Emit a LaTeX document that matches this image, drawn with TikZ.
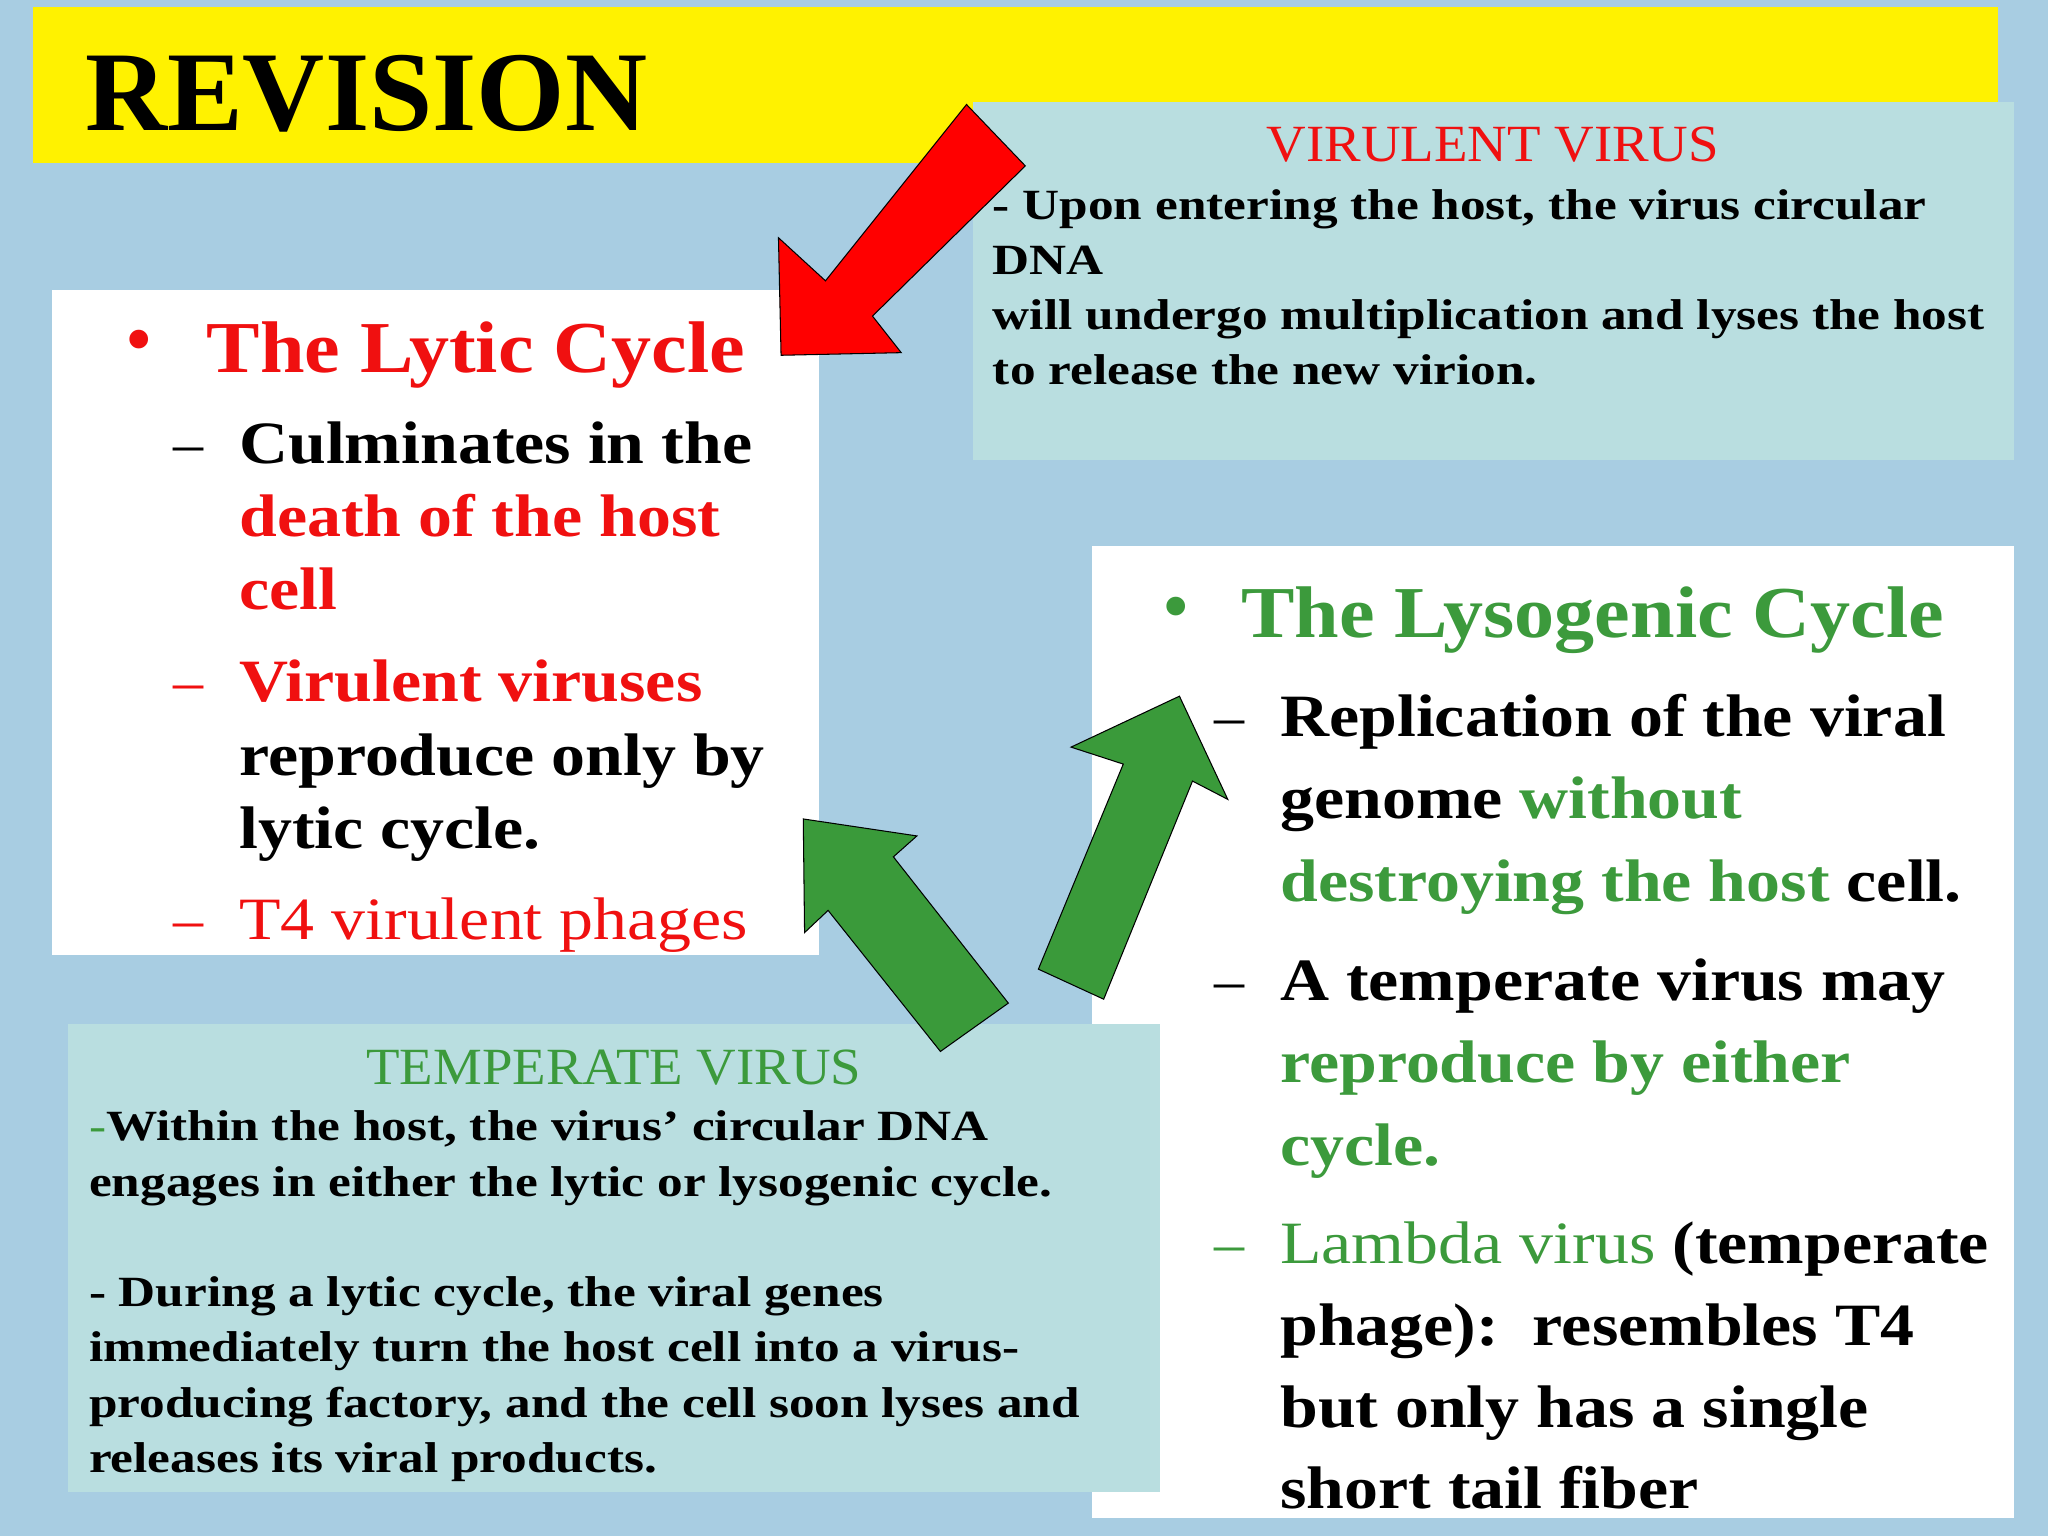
\documentclass[tikz,border=0pt]{standalone}
\usepackage{fontspec}
\setmainfont{Liberation Serif}
\newfontfamily\fwa[FakeStretch=1.13]{Liberation Serif}
\newfontfamily\fwb[FakeStretch=1.19]{Liberation Serif}
\newfontfamily\fwc[FakeStretch=1.095]{Liberation Serif}
\newfontfamily\fwd[FakeStretch=1.05]{Liberation Serif}
\definecolor{bg}{HTML}{A8CDE2}
\definecolor{tb}{HTML}{B9DEE0}
\definecolor{rr}{HTML}{F01010}
\definecolor{gg}{HTML}{3C9A3C}
\definecolor{ga}{HTML}{3A9A3A}
\begin{document}
\begin{tikzpicture}[x=1pt,y=-1pt,
  t/.style={anchor=base west,inner sep=0pt},
  big/.style={t,font=\fwa\fontsize{46}{50}\selectfont\bfseries},
  mid/.style={t,font=\fwb\fontsize{33}{36}\selectfont\bfseries},
  dsh/.style={t,font=\fontsize{46}{50}\selectfont},
  arr/.style={draw=black,line width=0.8pt}]
\useasboundingbox (0,0) rectangle (1568,1176);
\fill[bg] (0,0) rectangle (1568,1176);
\fill[yellow] (25,5) rectangle (1530,125);
\node[t,font=\fontsize{87}{90}\selectfont\bfseries] (title) at (65,100) {REVISION};
% virulent box
\fill[tb] (745,78) rectangle (1542,352);
\node[anchor=base,inner sep=0pt,text=rr,font=\fwd\fontsize{40}{40}\selectfont] (vt) at (1143,124) {VIRULENT VIRUS};
\node[mid] (v1) at (760,168) {- Upon entering the host, the virus circular};
\node[mid] (v2) at (760,210) {DNA};
\node[mid] (v3) at (760,252) {will undergo multiplication and lyses the host};
\node[mid] (v4) at (760,294) {to release the new virion.};
% lytic box
\fill[white] (40,222) rectangle (627,731);
\node[t,text=rr,font=\fontsize{60}{60}\selectfont] (lb) at (96,280) {•};
\node[t,text=rr,font=\fwc\fontsize{56}{60}\selectfont\bfseries] (lt) at (158,285) {The Lytic Cycle};
\node[dsh] (ld1) at (133,355) {–};
\node[big] (l1) at (183,355) {Culminates in the};
\node[big,text=rr] (l2) at (183,411) {death of the host};
\node[big,text=rr] (l3) at (183,467) {cell};
\node[dsh,text=rr] (ld2) at (133,537) {–};
\node[big,text=rr] (l4) at (183,537) {Virulent viruses};
\node[big] (l5) at (183,594) {reproduce only by};
\node[big] (l6) at (183,650) {lytic cycle.};
\node[dsh,text=rr] (ld3) at (133,719) {–};
\node[t,text=rr,font=\fwa\fontsize{46}{50}\selectfont] (l7) at (183,719) {T4 virulent phages};
% lysogenic box
\fill[white] (836,418) rectangle (1542,1162);
\node[t,text=gg,font=\fontsize{60}{60}\selectfont] (gb) at (890,484) {•};
\node[t,text=gg,font=\fwc\fontsize{56}{60}\selectfont\bfseries] (gt) at (950,488) {The Lysogenic Cycle};
\node[dsh] (gd1) at (930,564) {–};
\node[big] (g1) at (980,564) {Replication of the viral};
\node[big] (g2) at (980,627) {genome \textcolor{gg}{without}};
\node[big] (g3) at (980,690) {\textcolor{gg}{destroying the host} cell.};
\node[dsh] (gd2) at (930,766) {–};
\node[big] (g4) at (980,766) {A temperate virus may};
\node[big,text=gg] (g5) at (980,829) {reproduce by either};
\node[big,text=gg] (g6) at (980,892) {cycle.};
\node[dsh,text=gg] (gd3) at (930,967) {–};
\node[big] (g7) at (980,967) {\textcolor{gg}{\mdseries Lambda virus} (temperate};
\node[big] (g8) at (980,1030) {phage):\ \ resembles T4};
\node[big] (g9) at (980,1093) {but only has a single};
\node[big] (g10) at (980,1155) {short tail fiber};
% temperate box
\fill[tb] (52,784) rectangle (888,1142);
\node[anchor=base,inner sep=0pt,text=gg,font=\fwd\fontsize{40}{40}\selectfont] (tt) at (470,830) {TEMPERATE VIRUS};
\node[mid] (t1) at (68,873) {\textcolor{gg}{\mdseries -}Within the host, the virus’ circular DNA};
\node[mid] (t2) at (68,916) {engages in either the lytic or lysogenic cycle.};
\node[mid] (t3) at (68,1000) {- During a lytic cycle, the viral genes};
\node[mid] (t4) at (68,1042) {immediately turn the host cell into a virus-};
\node[mid] (t5) at (68,1085) {producing factory, and the cell soon lyses and};
\node[mid] (t6) at (68,1127) {releases its viral products.};
% arrows
\draw[arr,fill=red] (598,272) -- (596,182) -- (632,215) -- (740,80) -- (785,127) -- (668,242) -- (690,270) -- cycle;
\draw[arr,fill=ga] (615,627) -- (702,640) -- (684,656) -- (772,768) -- (720,805) -- (634,697) -- (616,714) -- cycle;
\draw[arr,fill=ga] (903,533) -- (940,612) -- (913,598) -- (845,765) -- (795,742) -- (860,585) -- (820,572) -- cycle;
\end{tikzpicture}
\end{document}
